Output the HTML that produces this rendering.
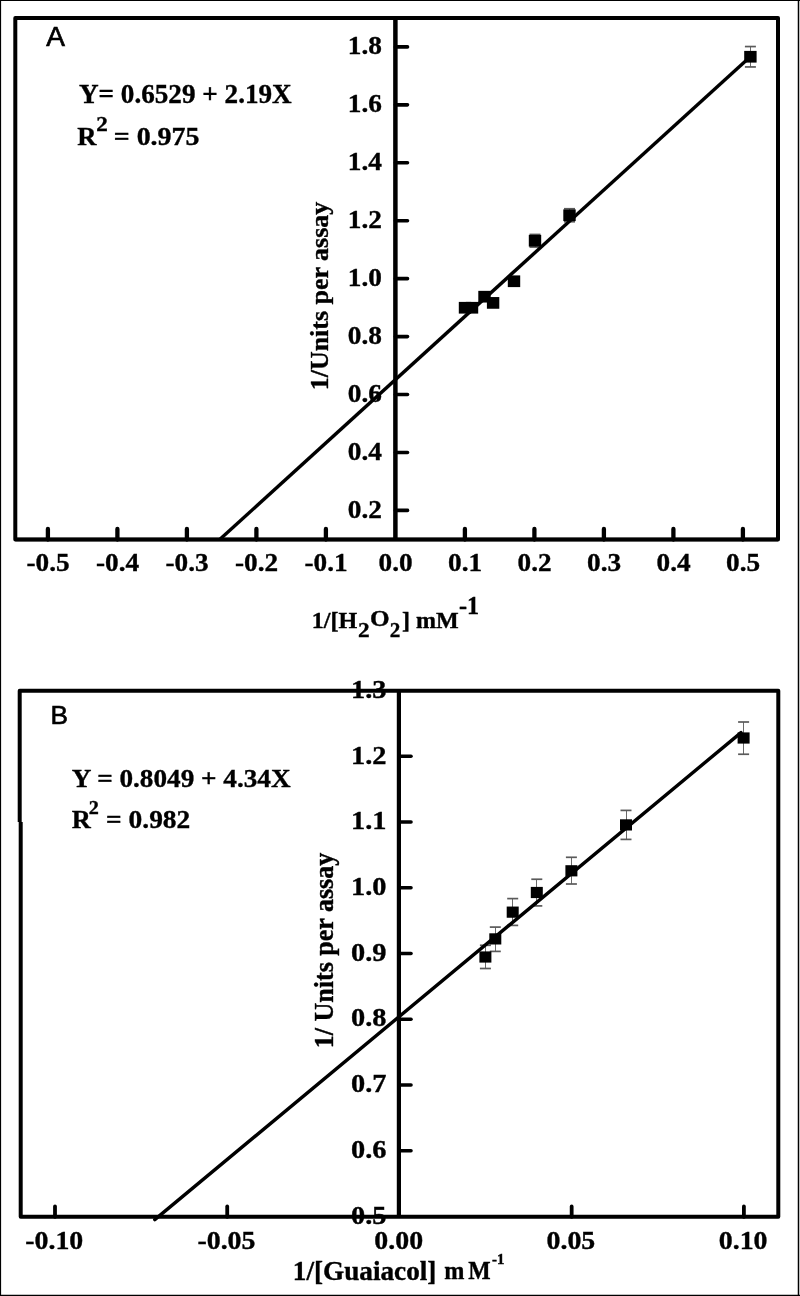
<!DOCTYPE html>
<html><head><meta charset="utf-8"><style>
html,body{margin:0;padding:0;background:#fff;width:800px;height:1296px;overflow:hidden}
svg{display:block;will-change:transform}
</style></head><body>
<svg width="800" height="1296" viewBox="0 0 800 1296">
<rect x="0.00" y="0.00" width="800.00" height="1.00" fill="#000"/>
<rect x="0.00" y="0.00" width="1.10" height="1296.00" fill="#000"/>
<rect x="797.75" y="0.00" width="1.50" height="1296.00" fill="#000"/>
<rect x="0.00" y="1294.75" width="800.00" height="1.25" fill="#000"/>
<path d="M15.3,539.5 L15.3,17.9 L778.0,17.9 L778.0,539.5 Z" fill="none" stroke="#000" stroke-width="4" stroke-linejoin="round"/>
<line x1="15.30" y1="539.50" x2="778.00" y2="539.50" stroke="#000" stroke-width="3.7" stroke-linecap="butt"/>
<line x1="395.40" y1="17.90" x2="395.40" y2="539.50" stroke="#000" stroke-width="4.5" stroke-linecap="butt"/>
<line x1="395.40" y1="510.42" x2="407.50" y2="510.42" stroke="#000" stroke-width="3.6" stroke-linecap="round"/>
<text transform="translate(381.988,517.987) scale(1.0923,1.0058)" text-anchor="end" font-family="Liberation Serif" font-weight="bold" font-size="25" stroke="#000" stroke-width="0.35">0.2</text>
<line x1="395.40" y1="452.48" x2="407.50" y2="452.48" stroke="#000" stroke-width="3.6" stroke-linecap="round"/>
<text transform="translate(381.988,460.047) scale(1.0923,1.0058)" text-anchor="end" font-family="Liberation Serif" font-weight="bold" font-size="25" stroke="#000" stroke-width="0.35">0.4</text>
<line x1="395.40" y1="394.54" x2="407.50" y2="394.54" stroke="#000" stroke-width="3.6" stroke-linecap="round"/>
<text transform="translate(381.988,402.107) scale(1.0923,1.0058)" text-anchor="end" font-family="Liberation Serif" font-weight="bold" font-size="25" stroke="#000" stroke-width="0.35">0.6</text>
<line x1="395.40" y1="336.60" x2="407.50" y2="336.60" stroke="#000" stroke-width="3.6" stroke-linecap="round"/>
<text transform="translate(381.988,344.167) scale(1.0923,1.0058)" text-anchor="end" font-family="Liberation Serif" font-weight="bold" font-size="25" stroke="#000" stroke-width="0.35">0.8</text>
<line x1="395.40" y1="278.66" x2="407.50" y2="278.66" stroke="#000" stroke-width="3.6" stroke-linecap="round"/>
<text transform="translate(381.988,286.227) scale(1.0923,1.0058)" text-anchor="end" font-family="Liberation Serif" font-weight="bold" font-size="25" stroke="#000" stroke-width="0.35">1.0</text>
<line x1="395.40" y1="220.72" x2="407.50" y2="220.72" stroke="#000" stroke-width="3.6" stroke-linecap="round"/>
<text transform="translate(381.988,228.287) scale(1.0923,1.0058)" text-anchor="end" font-family="Liberation Serif" font-weight="bold" font-size="25" stroke="#000" stroke-width="0.35">1.2</text>
<line x1="395.40" y1="162.78" x2="407.50" y2="162.78" stroke="#000" stroke-width="3.6" stroke-linecap="round"/>
<text transform="translate(381.988,170.347) scale(1.0923,1.0058)" text-anchor="end" font-family="Liberation Serif" font-weight="bold" font-size="25" stroke="#000" stroke-width="0.35">1.4</text>
<line x1="395.40" y1="104.84" x2="407.50" y2="104.84" stroke="#000" stroke-width="3.6" stroke-linecap="round"/>
<text transform="translate(381.988,112.407) scale(1.0923,1.0058)" text-anchor="end" font-family="Liberation Serif" font-weight="bold" font-size="25" stroke="#000" stroke-width="0.35">1.6</text>
<line x1="395.40" y1="46.90" x2="407.50" y2="46.90" stroke="#000" stroke-width="3.6" stroke-linecap="round"/>
<text transform="translate(381.988,54.467) scale(1.0923,1.0058)" text-anchor="end" font-family="Liberation Serif" font-weight="bold" font-size="25" stroke="#000" stroke-width="0.35">1.8</text>
<line x1="47.90" y1="539.50" x2="47.90" y2="529.00" stroke="#000" stroke-width="4.3" stroke-linecap="round"/>
<text transform="translate(48.100,571.250) scale(1.0903,1.0129)" text-anchor="middle" font-family="Liberation Serif" font-weight="bold" font-size="25" stroke="#000" stroke-width="0.35">-0.5</text>
<line x1="117.40" y1="539.50" x2="117.40" y2="529.00" stroke="#000" stroke-width="4.3" stroke-linecap="round"/>
<text transform="translate(117.600,571.250) scale(1.0903,1.0129)" text-anchor="middle" font-family="Liberation Serif" font-weight="bold" font-size="25" stroke="#000" stroke-width="0.35">-0.4</text>
<line x1="186.90" y1="539.50" x2="186.90" y2="529.00" stroke="#000" stroke-width="4.3" stroke-linecap="round"/>
<text transform="translate(187.100,571.250) scale(1.0903,1.0129)" text-anchor="middle" font-family="Liberation Serif" font-weight="bold" font-size="25" stroke="#000" stroke-width="0.35">-0.3</text>
<line x1="256.40" y1="539.50" x2="256.40" y2="529.00" stroke="#000" stroke-width="4.3" stroke-linecap="round"/>
<text transform="translate(256.600,571.250) scale(1.0903,1.0129)" text-anchor="middle" font-family="Liberation Serif" font-weight="bold" font-size="25" stroke="#000" stroke-width="0.35">-0.2</text>
<line x1="325.90" y1="539.50" x2="325.90" y2="529.00" stroke="#000" stroke-width="4.3" stroke-linecap="round"/>
<text transform="translate(326.100,571.250) scale(1.0903,1.0129)" text-anchor="middle" font-family="Liberation Serif" font-weight="bold" font-size="25" stroke="#000" stroke-width="0.35">-0.1</text>
<text transform="translate(395.600,571.250) scale(1.0903,1.0129)" text-anchor="middle" font-family="Liberation Serif" font-weight="bold" font-size="25" stroke="#000" stroke-width="0.35">0.0</text>
<line x1="464.90" y1="539.50" x2="464.90" y2="529.00" stroke="#000" stroke-width="4.3" stroke-linecap="round"/>
<text transform="translate(465.100,571.250) scale(1.0903,1.0129)" text-anchor="middle" font-family="Liberation Serif" font-weight="bold" font-size="25" stroke="#000" stroke-width="0.35">0.1</text>
<line x1="534.40" y1="539.50" x2="534.40" y2="529.00" stroke="#000" stroke-width="4.3" stroke-linecap="round"/>
<text transform="translate(534.600,571.250) scale(1.0903,1.0129)" text-anchor="middle" font-family="Liberation Serif" font-weight="bold" font-size="25" stroke="#000" stroke-width="0.35">0.2</text>
<line x1="603.90" y1="539.50" x2="603.90" y2="529.00" stroke="#000" stroke-width="4.3" stroke-linecap="round"/>
<text transform="translate(604.100,571.250) scale(1.0903,1.0129)" text-anchor="middle" font-family="Liberation Serif" font-weight="bold" font-size="25" stroke="#000" stroke-width="0.35">0.3</text>
<line x1="673.40" y1="539.50" x2="673.40" y2="529.00" stroke="#000" stroke-width="4.3" stroke-linecap="round"/>
<text transform="translate(673.600,571.250) scale(1.0903,1.0129)" text-anchor="middle" font-family="Liberation Serif" font-weight="bold" font-size="25" stroke="#000" stroke-width="0.35">0.4</text>
<line x1="742.90" y1="539.50" x2="742.90" y2="529.00" stroke="#000" stroke-width="4.3" stroke-linecap="round"/>
<text transform="translate(743.100,571.250) scale(1.0903,1.0129)" text-anchor="middle" font-family="Liberation Serif" font-weight="bold" font-size="25" stroke="#000" stroke-width="0.35">0.5</text>
<text transform="translate(46.230,46.010) scale(1.1212,1.1036)" text-anchor="start" font-family="Liberation Sans" font-weight="normal" font-size="25" stroke="#000" stroke-width="0.6">A</text>
<text transform="translate(79.000,103.023) scale(1.0863,1.0606)" text-anchor="start" font-family="Liberation Serif" font-weight="bold" font-size="25" stroke="#000" stroke-width="0.35">Y= 0.6529 + 2.19X</text>
<text transform="translate(77.287,145.023) scale(1.0654,1.0129)" text-anchor="start" font-family="Liberation Serif" font-weight="bold" font-size="25" stroke="#000" stroke-width="0.35">R</text>
<text transform="translate(96.350,130.756) scale(1.2145,1.0470)" text-anchor="start" font-family="Liberation Serif" font-weight="bold" font-size="19" stroke="#000" stroke-width="0.35">2</text>
<text transform="translate(113.750,145.023) scale(1.1174,1.0129)" text-anchor="start" font-family="Liberation Serif" font-weight="bold" font-size="25" stroke="#000" stroke-width="0.35">= 0.975</text>
<text transform="translate(328.485,296.051) scale(1.0331,1.0389) rotate(-90)" text-anchor="middle" font-family="Liberation Serif" font-weight="bold" font-size="25" stroke="#000" stroke-width="0.35">1/Units per assay</text>
<text transform="translate(311.792,628.277) scale(1.0948,1.0582)" text-anchor="start" font-family="Liberation Serif" font-weight="bold" font-size="22" stroke="#000" stroke-width="0.35">1/[H</text>
<text transform="translate(358.008,636.513) scale(1.0595,0.9750)" text-anchor="start" font-family="Liberation Serif" font-weight="bold" font-size="22" stroke="#000" stroke-width="0.35">2</text>
<text transform="translate(369.975,626.465) scale(1.1477,1.0024)" text-anchor="start" font-family="Liberation Serif" font-weight="bold" font-size="22" stroke="#000" stroke-width="0.35">O</text>
<text transform="translate(389.630,636.513) scale(0.9609,0.9750)" text-anchor="start" font-family="Liberation Serif" font-weight="bold" font-size="22" stroke="#000" stroke-width="0.35">2</text>
<text transform="translate(402.003,627.884) scale(1.0926,1.0268)" text-anchor="start" font-family="Liberation Serif" font-weight="bold" font-size="22" stroke="#000" stroke-width="0.35">] mM</text>
<text transform="translate(458.988,613.896) scale(1.0976,1.1071)" text-anchor="start" font-family="Liberation Serif" font-weight="bold" font-size="22" stroke="#000" stroke-width="0.35">-1</text>
<line x1="535.50" y1="234.45" x2="535.50" y2="247.05" stroke="#6a6a6a" stroke-width="1.0" stroke-linecap="butt"/>
<line x1="529.50" y1="234.45" x2="540.50" y2="234.45" stroke="#5a5a5a" stroke-width="1.7" stroke-linecap="butt"/>
<line x1="529.50" y1="247.05" x2="540.50" y2="247.05" stroke="#5a5a5a" stroke-width="1.7" stroke-linecap="butt"/>
<line x1="569.50" y1="208.75" x2="569.50" y2="221.75" stroke="#6a6a6a" stroke-width="1.0" stroke-linecap="butt"/>
<line x1="564.00" y1="208.75" x2="575.00" y2="208.75" stroke="#5a5a5a" stroke-width="1.7" stroke-linecap="butt"/>
<line x1="564.00" y1="221.75" x2="575.00" y2="221.75" stroke="#5a5a5a" stroke-width="1.7" stroke-linecap="butt"/>
<line x1="750.50" y1="46.55" x2="750.50" y2="66.95" stroke="#6a6a6a" stroke-width="1.0" stroke-linecap="butt"/>
<line x1="744.90" y1="46.55" x2="755.90" y2="46.55" stroke="#5a5a5a" stroke-width="1.7" stroke-linecap="butt"/>
<line x1="744.90" y1="66.95" x2="755.90" y2="66.95" stroke="#5a5a5a" stroke-width="1.7" stroke-linecap="butt"/>
<line x1="219.70" y1="539.60" x2="747.50" y2="59.16" stroke="#000" stroke-width="3.4" stroke-linecap="butt"/>
<rect x="458.80" y="301.90" width="12.40" height="11.70" fill="#000"/>
<rect x="465.80" y="301.90" width="12.40" height="11.70" fill="#000"/>
<rect x="478.30" y="290.85" width="12.40" height="11.70" fill="#000"/>
<rect x="486.90" y="297.05" width="12.40" height="11.70" fill="#000"/>
<rect x="507.80" y="275.40" width="12.40" height="11.70" fill="#000"/>
<rect x="528.80" y="234.90" width="12.40" height="11.70" fill="#000"/>
<rect x="563.30" y="209.40" width="12.40" height="11.70" fill="#000"/>
<rect x="744.20" y="50.90" width="12.40" height="11.70" fill="#000"/>
<path d="M19.7,822 L19.7,690.7 L778.3,690.7 L778.3,1216.75 L20.7,1216.75 L20.7,822" fill="none" stroke="#000" stroke-width="4" stroke-linejoin="round" stroke-linecap="butt"/>
<line x1="398.90" y1="690.70" x2="398.90" y2="1216.75" stroke="#000" stroke-width="4.2" stroke-linecap="butt"/>
<text transform="translate(386.526,1223.700) scale(1.1352,1.0479)" text-anchor="end" font-family="Liberation Serif" font-weight="bold" font-size="25" stroke="#000" stroke-width="0.35">0.5</text>
<line x1="398.90" y1="1150.74" x2="411.00" y2="1150.74" stroke="#000" stroke-width="3.6" stroke-linecap="round"/>
<text transform="translate(386.526,1157.960) scale(1.1352,1.0479)" text-anchor="end" font-family="Liberation Serif" font-weight="bold" font-size="25" stroke="#000" stroke-width="0.35">0.6</text>
<line x1="398.90" y1="1085.00" x2="411.00" y2="1085.00" stroke="#000" stroke-width="3.6" stroke-linecap="round"/>
<text transform="translate(386.526,1092.220) scale(1.1352,1.0479)" text-anchor="end" font-family="Liberation Serif" font-weight="bold" font-size="25" stroke="#000" stroke-width="0.35">0.7</text>
<line x1="398.90" y1="1019.26" x2="411.00" y2="1019.26" stroke="#000" stroke-width="3.6" stroke-linecap="round"/>
<text transform="translate(386.526,1026.480) scale(1.1352,1.0479)" text-anchor="end" font-family="Liberation Serif" font-weight="bold" font-size="25" stroke="#000" stroke-width="0.35">0.8</text>
<line x1="398.90" y1="953.52" x2="411.00" y2="953.52" stroke="#000" stroke-width="3.6" stroke-linecap="round"/>
<text transform="translate(386.526,960.740) scale(1.1352,1.0479)" text-anchor="end" font-family="Liberation Serif" font-weight="bold" font-size="25" stroke="#000" stroke-width="0.35">0.9</text>
<line x1="398.90" y1="887.78" x2="411.00" y2="887.78" stroke="#000" stroke-width="3.6" stroke-linecap="round"/>
<text transform="translate(386.526,895.000) scale(1.1352,1.0479)" text-anchor="end" font-family="Liberation Serif" font-weight="bold" font-size="25" stroke="#000" stroke-width="0.35">1.0</text>
<line x1="398.90" y1="822.04" x2="411.00" y2="822.04" stroke="#000" stroke-width="3.6" stroke-linecap="round"/>
<text transform="translate(386.526,829.260) scale(1.1352,1.0479)" text-anchor="end" font-family="Liberation Serif" font-weight="bold" font-size="25" stroke="#000" stroke-width="0.35">1.1</text>
<line x1="398.90" y1="756.30" x2="411.00" y2="756.30" stroke="#000" stroke-width="3.6" stroke-linecap="round"/>
<text transform="translate(386.526,763.520) scale(1.1352,1.0479)" text-anchor="end" font-family="Liberation Serif" font-weight="bold" font-size="25" stroke="#000" stroke-width="0.35">1.2</text>
<text transform="translate(386.526,697.780) scale(1.1352,1.0479)" text-anchor="end" font-family="Liberation Serif" font-weight="bold" font-size="25" stroke="#000" stroke-width="0.35">1.3</text>
<line x1="55.00" y1="1216.75" x2="55.00" y2="1206.50" stroke="#000" stroke-width="3.8" stroke-linecap="round"/>
<text transform="translate(54.250,1248.700) scale(1.1138,1.0123)" text-anchor="middle" font-family="Liberation Serif" font-weight="bold" font-size="25" stroke="#000" stroke-width="0.35">-0.10</text>
<line x1="227.22" y1="1216.75" x2="227.22" y2="1206.50" stroke="#000" stroke-width="3.8" stroke-linecap="round"/>
<text transform="translate(226.475,1248.700) scale(1.1138,1.0123)" text-anchor="middle" font-family="Liberation Serif" font-weight="bold" font-size="25" stroke="#000" stroke-width="0.35">-0.05</text>
<text transform="translate(398.700,1248.700) scale(1.1138,1.0123)" text-anchor="middle" font-family="Liberation Serif" font-weight="bold" font-size="25" stroke="#000" stroke-width="0.35">0.00</text>
<line x1="571.67" y1="1216.75" x2="571.67" y2="1206.50" stroke="#000" stroke-width="3.8" stroke-linecap="round"/>
<text transform="translate(570.925,1248.700) scale(1.1138,1.0123)" text-anchor="middle" font-family="Liberation Serif" font-weight="bold" font-size="25" stroke="#000" stroke-width="0.35">0.05</text>
<line x1="743.90" y1="1216.75" x2="743.90" y2="1206.50" stroke="#000" stroke-width="3.8" stroke-linecap="round"/>
<text transform="translate(743.150,1248.700) scale(1.1138,1.0123)" text-anchor="middle" font-family="Liberation Serif" font-weight="bold" font-size="25" stroke="#000" stroke-width="0.35">0.10</text>
<text transform="translate(50.594,724.472) scale(1.0500,1.0567)" text-anchor="start" font-family="Liberation Sans" font-weight="normal" font-size="25" stroke="#000" stroke-width="0.6">B</text>
<text transform="translate(71.766,787.000) scale(1.0463,0.9767)" text-anchor="start" font-family="Liberation Serif" font-weight="bold" font-size="26" stroke="#000" stroke-width="0.35">Y = 0.8049 + 4.34X</text>
<text transform="translate(71.755,828.271) scale(1.0143,1.0012)" text-anchor="start" font-family="Liberation Serif" font-weight="bold" font-size="26" stroke="#000" stroke-width="0.35">R</text>
<text transform="translate(88.750,814.000) scale(1.1200,1.0140)" text-anchor="start" font-family="Liberation Serif" font-weight="bold" font-size="18" stroke="#000" stroke-width="0.35">2</text>
<text transform="translate(106.057,828.034) scale(1.0557,1.0016)" text-anchor="start" font-family="Liberation Serif" font-weight="bold" font-size="26" stroke="#000" stroke-width="0.35">= 0.982</text>
<text transform="translate(332.991,950.539) scale(1.0759,1.0430) rotate(-90)" text-anchor="middle" font-family="Liberation Serif" font-weight="bold" font-size="25" stroke="#000" stroke-width="0.35">1/ Units per assay</text>
<text transform="translate(292.812,1280.195) scale(1.0889,1.0506)" text-anchor="start" font-family="Liberation Serif" font-weight="bold" font-size="25" stroke="#000" stroke-width="0.35">1/[Guaiacol]</text>
<text transform="translate(492.112,1264.499) scale(1.2406,1.1310)" text-anchor="start" font-family="Liberation Serif" font-weight="bold" font-size="12" stroke="#000" stroke-width="0.35">-1</text>
<text transform="translate(444.135,1278.750) scale(0.9683,1.0000)" text-anchor="start" font-family="Liberation Serif" font-weight="bold" font-size="25" stroke="#000" stroke-width="0.35">m</text>
<text transform="translate(468.212,1278.798) scale(0.9486,1.0058)" text-anchor="start" font-family="Liberation Serif" font-weight="bold" font-size="25" stroke="#000" stroke-width="0.35">M</text>
<line x1="485.50" y1="945.30" x2="485.50" y2="968.50" stroke="#6a6a6a" stroke-width="1.0" stroke-linecap="butt"/>
<line x1="479.90" y1="945.30" x2="490.90" y2="945.30" stroke="#5a5a5a" stroke-width="1.7" stroke-linecap="butt"/>
<line x1="479.90" y1="968.50" x2="490.90" y2="968.50" stroke="#5a5a5a" stroke-width="1.7" stroke-linecap="butt"/>
<line x1="495.50" y1="927.10" x2="495.50" y2="951.40" stroke="#6a6a6a" stroke-width="1.0" stroke-linecap="butt"/>
<line x1="489.80" y1="927.10" x2="500.80" y2="927.10" stroke="#5a5a5a" stroke-width="1.7" stroke-linecap="butt"/>
<line x1="489.80" y1="951.40" x2="500.80" y2="951.40" stroke="#5a5a5a" stroke-width="1.7" stroke-linecap="butt"/>
<line x1="512.50" y1="898.60" x2="512.50" y2="925.40" stroke="#6a6a6a" stroke-width="1.0" stroke-linecap="butt"/>
<line x1="507.20" y1="898.60" x2="518.20" y2="898.60" stroke="#5a5a5a" stroke-width="1.7" stroke-linecap="butt"/>
<line x1="507.20" y1="925.40" x2="518.20" y2="925.40" stroke="#5a5a5a" stroke-width="1.7" stroke-linecap="butt"/>
<line x1="536.50" y1="879.25" x2="536.50" y2="905.90" stroke="#6a6a6a" stroke-width="1.0" stroke-linecap="butt"/>
<line x1="531.30" y1="879.25" x2="542.30" y2="879.25" stroke="#5a5a5a" stroke-width="1.7" stroke-linecap="butt"/>
<line x1="531.30" y1="905.90" x2="542.30" y2="905.90" stroke="#5a5a5a" stroke-width="1.7" stroke-linecap="butt"/>
<line x1="571.50" y1="857.30" x2="571.50" y2="884.00" stroke="#6a6a6a" stroke-width="1.0" stroke-linecap="butt"/>
<line x1="565.90" y1="857.30" x2="576.90" y2="857.30" stroke="#5a5a5a" stroke-width="1.7" stroke-linecap="butt"/>
<line x1="565.90" y1="884.00" x2="576.90" y2="884.00" stroke="#5a5a5a" stroke-width="1.7" stroke-linecap="butt"/>
<line x1="626.50" y1="810.40" x2="626.50" y2="839.40" stroke="#6a6a6a" stroke-width="1.0" stroke-linecap="butt"/>
<line x1="620.50" y1="810.40" x2="631.50" y2="810.40" stroke="#5a5a5a" stroke-width="1.7" stroke-linecap="butt"/>
<line x1="620.50" y1="839.40" x2="631.50" y2="839.40" stroke="#5a5a5a" stroke-width="1.7" stroke-linecap="butt"/>
<line x1="743.50" y1="722.00" x2="743.50" y2="754.25" stroke="#6a6a6a" stroke-width="1.0" stroke-linecap="butt"/>
<line x1="738.10" y1="722.00" x2="749.10" y2="722.00" stroke="#5a5a5a" stroke-width="1.7" stroke-linecap="butt"/>
<line x1="738.10" y1="754.25" x2="749.10" y2="754.25" stroke="#5a5a5a" stroke-width="1.7" stroke-linecap="butt"/>
<line x1="154.80" y1="1219.60" x2="741.00" y2="732.60" stroke="#000" stroke-width="3.4" stroke-linecap="round"/>
<rect x="479.40" y="951.40" width="12.00" height="11.20" fill="#000"/>
<rect x="489.30" y="933.30" width="12.00" height="11.20" fill="#000"/>
<rect x="506.70" y="906.55" width="12.00" height="11.20" fill="#000"/>
<rect x="530.80" y="886.90" width="12.00" height="11.20" fill="#000"/>
<rect x="565.40" y="865.20" width="12.00" height="11.20" fill="#000"/>
<rect x="620.00" y="819.30" width="12.00" height="11.20" fill="#000"/>
<rect x="737.60" y="732.40" width="12.00" height="11.20" fill="#000"/>
</svg></body></html>
